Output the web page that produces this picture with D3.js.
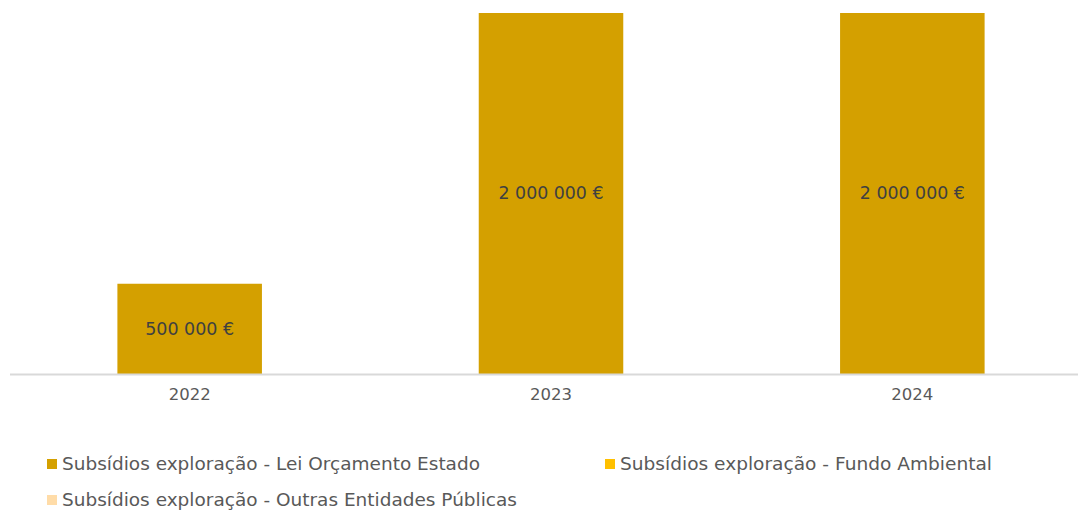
<!DOCTYPE html>
<html><head><meta charset="utf-8">
<script src="https://cdn.jsdelivr.net/npm/d3@7"></script>
<style>body{margin:0;background:#fff;}svg{display:block;}</style>
</head><body>
<svg id="c" width="1078" height="510"></svg>
<script>
const categories = ["2022", "2023", "2024"];
const seriesNames = ["Subsídios exploração - Lei Orçamento Estado", "Subsídios exploração - Fundo Ambiental", "Subsídios exploração - Outras Entidades Públicas"];
const leiOrcamento = [500000, 2000000, 2000000];
const fundoAmbiental = [0, 0, 0];
const outrasEntidades = [0, 0, 0];
const colors = ["#D4A000", "#FFC000", "#FFDCA8"];

const seriesValues = [leiOrcamento, fundoAmbiental, outrasEntidades];
const rows = categories.map((c, i) => {
  const r = {cat: c};
  seriesNames.forEach((s, j) => r[s] = seriesValues[j][i]);
  return r;
});
const stacked = d3.stack().keys(seriesNames)(rows);

const svg = d3.select("#c");
const font = "'DejaVu Sans', sans-serif";
const textColor = "#595959";

const x = d3.scaleBand().domain(categories).range([9, 1093]).paddingInner(0.6).paddingOuter(0.3);
const y = d3.scaleLinear().domain([0, 2000000]).range([374, 13]);

const fmt = v => d3.format(",")(v).replace(/,/g, " ") + " €";

svg.append("g").selectAll("g").data(stacked).join("g")
  .attr("fill", (d, i) => colors[i])
  .selectAll("rect").data(d => d).join("rect")
  .attr("x", d => x(d.data.cat))
  .attr("width", x.bandwidth())
  .attr("y", d => y(d[1]))
  .attr("height", d => y(d[0]) - y(d[1]));

// data labels for first series
svg.append("g").selectAll("text").data(stacked[0]).join("text")
  .attr("x", d => x(d.data.cat) + x.bandwidth() / 2)
  .attr("y", d => (y(d[0]) + y(d[1])) / 2)
  .attr("dy", "0.35em")
  .attr("text-anchor", "middle")
  .attr("font-family", font)
  .attr("font-size", 17)
  .attr("fill", "#404040")
  .attr("textLength", d => (d[1] - d[0]) >= 1000000 ? 105 : 89)
  .attr("lengthAdjust", "spacingAndGlyphs")
  .text(d => fmt(d[1] - d[0]));

// axis
const axis = svg.append("g").attr("transform", "translate(0,374)")
  .call(d3.axisBottom(x).tickSize(0).tickPadding(14));
axis.select(".domain").remove();
axis.selectAll("text").attr("font-family", font).attr("font-size", 16.5).attr("fill", textColor);
svg.append("line").attr("x1", 10).attr("x2", 1078).attr("y1", 374.5).attr("y2", 374.5)
  .attr("stroke", "#D9D9D9").attr("stroke-width", 2);

// legend
const legendPos = [[47, 464], [605, 464], [47, 500]];
const lg = svg.append("g").selectAll("g").data(seriesNames).join("g")
  .attr("transform", (d, i) => `translate(${legendPos[i][0]},${legendPos[i][1]})`);
lg.append("rect").attr("x", 0).attr("y", -5).attr("width", 10).attr("height", 10)
  .attr("fill", (d, i) => colors[i]);
lg.append("text").attr("x", 15).attr("dy", "0.35em")
  .attr("font-family", font).attr("font-size", 17).attr("fill", textColor)
  .attr("textLength", (d, i) => [418, 372, 455][i]).attr("lengthAdjust", "spacingAndGlyphs")
  .text(d => d);
</script>
</body></html>
